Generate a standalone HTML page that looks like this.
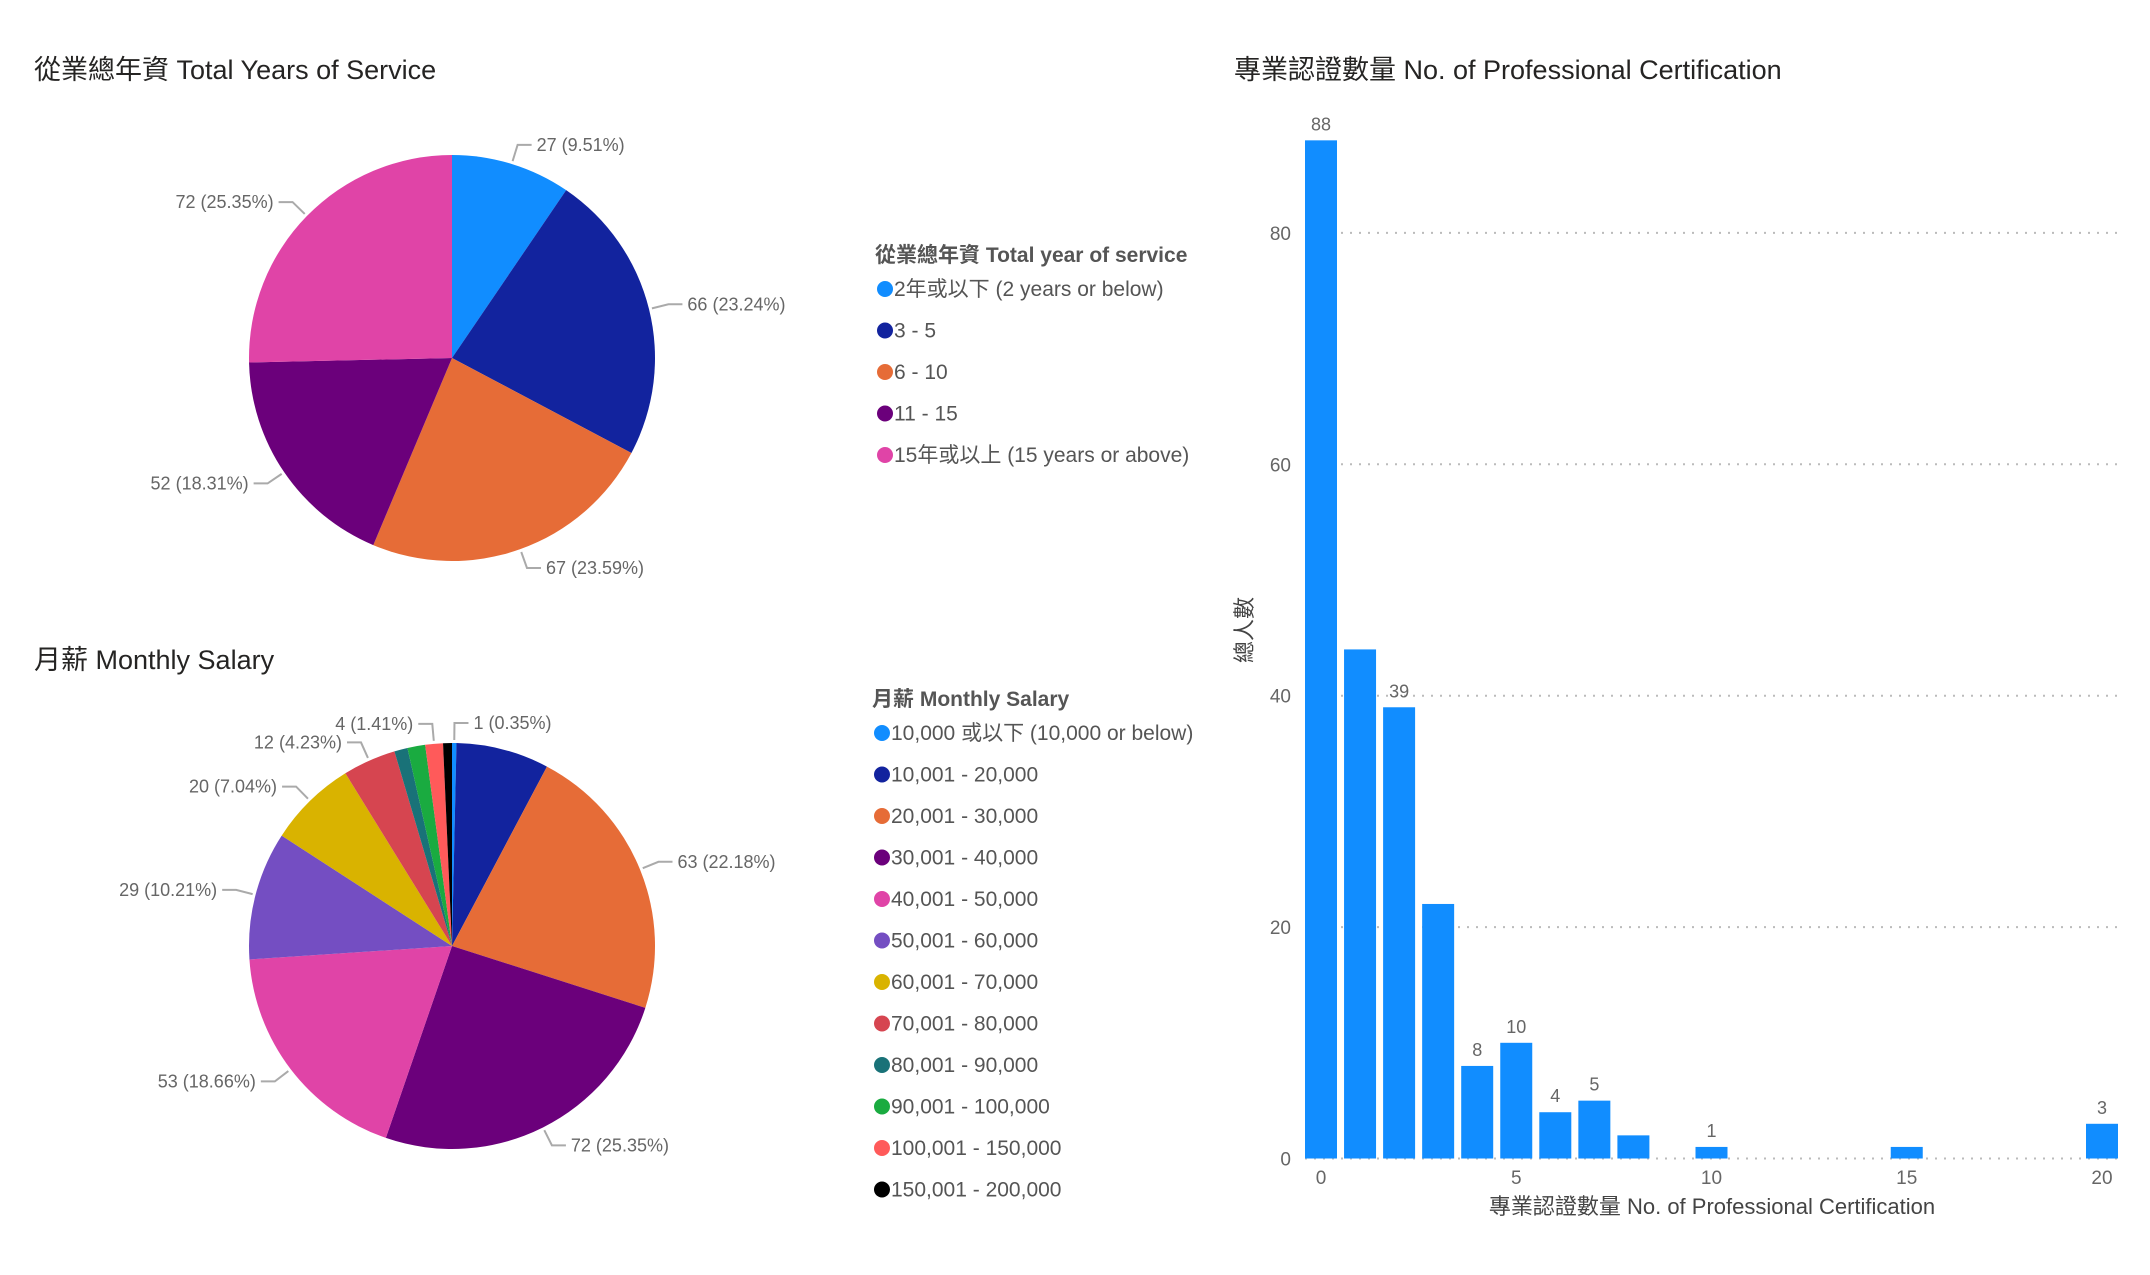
<!DOCTYPE html>
<html><head><meta charset="utf-8">
<style>
html,body{margin:0;padding:0;background:#fff;}
svg{display:block;font-family:"Liberation Sans","Noto Sans CJK TC",sans-serif;}
</style></head>
<body>
<svg id="root" width="2150" height="1275" viewBox="0 0 2150 1275" xmlns="http://www.w3.org/2000/svg">
<text x="34" y="79" font-size="27" fill="#252423">從業總年資 Total Years of Service</text>
<text x="34" y="669" font-size="27" fill="#252423">月薪 Monthly Salary</text>
<text x="1234" y="79" font-size="27" fill="#252423">專業認證數量 No. of Professional Certification</text>
<g id="pie1"></g>
<g id="pie2"></g>
<g id="leg1"></g>
<g id="leg2"></g>
<g id="bars"></g>
</svg>
<script>
const serviceCats = ["2年或以下 (2 years or below)","3 - 5","6 - 10","11 - 15","15年或以上 (15 years or above)"];
const serviceVals = [27,66,67,52,72];
const serviceColors = ["#118DFF","#12239E","#E66C37","#6B007B","#E044A7"];
const serviceShow = [1,1,1,1,1];
const salaryCats = ["10,000 或以下 (10,000 or below)","10,001 - 20,000","20,001 - 30,000","30,001 - 40,000","40,001 - 50,000","50,001 - 60,000","60,001 - 70,000","70,001 - 80,000","80,001 - 90,000","90,001 - 100,000","100,001 - 150,000","150,001 - 200,000"];
const salaryVals = [1,21,63,72,53,29,20,12,3,4,4,2];
const salaryColors = ["#118DFF","#12239E","#E66C37","#6B007B","#E044A7","#744EC2","#D9B300","#D64550","#197278","#1AAB40","#FF5A5A","#000000"];
const salaryShow = [1,0,1,1,1,1,1,1,0,0,1,0];
const certCats = [0,1,2,3,4,5,6,7,8,9,10,15,20];
const certVals = [88,44,39,22,8,10,4,5,2,0,1,1,3];
const certLabels = ["88","","39","","8","10","4","5","","","1","","3"];
const yTicks = [0,20,40,60,80];
const xTicks = [0,5,10,15,20];

const NS="http://www.w3.org/2000/svg";
function mk(tag, attrs, parent){const e=document.createElementNS(NS,tag);for(const k in attrs)e.setAttribute(k,attrs[k]);parent.appendChild(e);return e;}

function pie(gid, vals, colors, show, cx, cy, r, prefix){
  const g=document.getElementById(gid);
  const total=vals.reduce((a,b)=>a+b,0);
  let cum=0;
  vals.forEach((v,i)=>{
    const a0=cum/total*2*Math.PI; cum+=v; const a1=cum/total*2*Math.PI;
    const x0=cx+r*Math.sin(a0), y0=cy-r*Math.cos(a0), x1=cx+r*Math.sin(a1), y1=cy-r*Math.cos(a1);
    const large=(a1-a0)>Math.PI?1:0;
    const p=mk('path',{d:`M${cx},${cy} L${x0},${y0} A${r},${r} 0 ${large} 1 ${x1},${y1} Z`,fill:colors[i]},g);
    
    
    if(show[i]){
      const am=(a0+a1)/2, s=Math.sin(am), c=Math.cos(am);
      const px=cx+(r+3)*s, py=cy-(r+3)*c, qx=cx+(r+20)*s, qy=cy-(r+20)*c;
      const dir = s>=0?1:-1; const ex=qx+dir*14;
      const l=mk('polyline',{points:`${px},${py} ${qx},${qy} ${ex},${qy}`,fill:'none',stroke:'#aaa','stroke-width':2},g);
      
      
      const t=mk('text',{x:ex+dir*5,y:qy+6,'font-size':18,fill:'#666','text-anchor':dir>0?'start':'end'},g);
      t.textContent=v+' ('+(v/total*100).toFixed(2)+'%)';
      
      
    }
  });
}
pie('pie1',serviceVals,serviceColors,serviceShow,452,358,203,'service');
pie('pie2',salaryVals,salaryColors,salaryShow,452,946,203,'salary');

function legend(gid,title,cats,colors,x,y0,step){
  const g=document.getElementById(gid);
  const t=mk('text',{x:x,y:y0,'font-size':21,'font-weight':'bold',fill:'#555'},g);
  t.textContent=title;
  
  
  cats.forEach((c,i)=>{
    const y=y0+34+i*step;
    const dot=mk('circle',{cx:x+10,cy:y-7,r:8,fill:colors[i]},g);
    
    
    const tx=mk('text',{x:x+19,y:y,'font-size':21,fill:'#555'},g);
    tx.textContent=c;
    
    
  });
}
legend('leg1','從業總年資 Total year of service',serviceCats,serviceColors,875,262,41.5);
legend('leg2','月薪 Monthly Salary',salaryCats,salaryColors,872,706,41.5);

(function(){
  const g=document.getElementById('bars');
  const y0=1158.5, pxPerUnit=11.57, x0=1321, step=39.05, bw=32;
  const Y=v=>y0-v*pxPerUnit, X=c=>x0+c*step;
  yTicks.forEach(v=>{
    const ln=mk('line',{x1:1305,x2:2118,y1:Y(v),y2:Y(v),stroke:'#bbb','stroke-width':2,'stroke-dasharray':'2,7'},g);
    
    
    const t=mk('text',{x:1291,y:Y(v)+7,'font-size':19,fill:'#666','text-anchor':'end'},g);
    t.textContent=v;
    
    
  });
  certCats.forEach((c,i)=>{
    const v=certVals[i];
    const r=mk('rect',{x:X(c)-bw/2,y:Y(v),width:bw,height:v*pxPerUnit,fill:'#118DFF'},g);
    
    
    if(certLabels[i]){
      const t=mk('text',{x:X(c),y:Y(v)-10,'font-size':18,fill:'#666','text-anchor':'middle'},g);
      t.textContent=certLabels[i];
      
      
    }
  });
  xTicks.forEach(c=>{
    const t=mk('text',{x:X(c),y:1184,'font-size':19,fill:'#666','text-anchor':'middle'},g);
    t.textContent=c;
    
    
  });
  const xt=mk('text',{x:1712,y:1214,'font-size':22,fill:'#444','text-anchor':'middle'},g);
  xt.textContent='專業認證數量 No. of Professional Certification';
  
  
  const yt=mk('text',{x:0,y:0,'font-size':22,fill:'#444','text-anchor':'middle',transform:'translate(1252,630) rotate(-90)'},g);
  yt.textContent='總人數';
  
  
})();
</script>
</body></html>
